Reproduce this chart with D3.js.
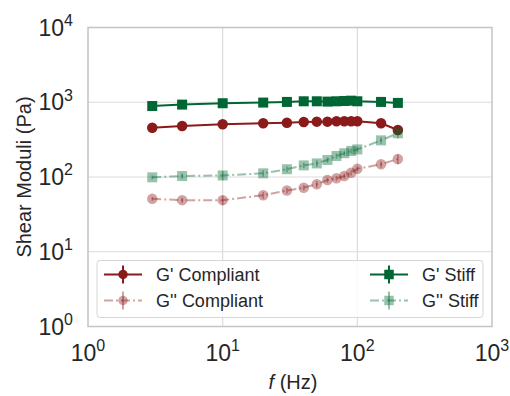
<!DOCTYPE html>
<html>
<head>
<meta charset="utf-8">
<script src="https://cdn.jsdelivr.net/npm/d3@7"></script>
<style>
  body { margin: 0; background: #fff; }
  svg { font-family: "Liberation Sans", Arial, sans-serif; }
</style>
</head>
<body>
<div class="chart"></div>
<script>
// frequencies (Hz)
var freq = [3, 5, 10, 20, 30, 40, 50, 60, 70, 80, 90, 100, 150, 200];

// shear moduli (Pa)
var gpCompliant  = [457, 481, 507, 523, 532, 544, 550, 550, 556, 556, 556, 556, 523, 426];
var gppCompliant = [51, 49, 49, 57, 66, 72, 80, 91, 96, 103, 114, 129, 148, 174];
var gpStiff      = [890, 930, 970, 990, 1010, 1030, 1030, 1020, 1030, 1040, 1050, 1030, 1010, 980];
var gppStiff     = [99, 103, 105, 112, 127, 143, 152, 169, 191, 208, 223, 234, 309, 385];

// rough standard deviations (fraction of value)
var gpErr  = [0.04, 0.03, 0.03, 0.03, 0.03, 0.03, 0.03, 0.03, 0.03, 0.03, 0.03, 0.03, 0.04, 0.06];
var gppErr = [0.06, 0.08, 0.14, 0.1, 0.09, 0.08, 0.1, 0.08, 0.08, 0.08, 0.08, 0.08, 0.1, 0.15];

var xTicks = [1, 10, 100, 1000];
var yTicks = [1, 10, 100, 1000, 10000];

var series = [
    { name: "G' Compliant",  vals: gpCompliant,  err: gpErr,  color: "#8b1a1a", shape: "circle", dash: null,      op: 1 },
    { name: "G'' Compliant", vals: gppCompliant, err: gppErr, color: "#8b1a1a", shape: "circle", dash: "9,3,2,3", op: 0.4 },
    { name: "G' Stiff",      vals: gpStiff,      err: gpErr,  color: "#006633", shape: "square", dash: null,      op: 1 },
    { name: "G'' Stiff",     vals: gppStiff,     err: gppErr, color: "#006633", shape: "square", dash: "9,3,2,3", op: 0.4 }
];

var W = 510, H = 396;
var margin = { top: 27.5, right: 18, bottom: 69.5, left: 88 };
var w = W - margin.left - margin.right;
var h = H - margin.top - margin.bottom;

var svg = d3.select(".chart").append("svg")
    .attr("width", W)
    .attr("height", H);

var g = svg.append("g")
    .attr("transform", "translate(" + margin.left + "," + margin.top + ")");

var x = d3.scaleLog().domain([1, 1000]).range([0, w]);
var y = d3.scaleLog().domain([1, 10000]).range([h, 0]);

// grid
g.append("g").selectAll("line").data(xTicks.slice(1, -1)).enter().append("line")
    .attr("x1", function(d) { return x(d); }).attr("x2", function(d) { return x(d); })
    .attr("y1", 0).attr("y2", h)
    .attr("stroke", "#dcdcdc").attr("stroke-width", 1.2);
g.append("g").selectAll("line").data(yTicks.slice(1, -1)).enter().append("line")
    .attr("y1", function(d) { return y(d); }).attr("y2", function(d) { return y(d); })
    .attr("x1", 0).attr("x2", w)
    .attr("stroke", "#dcdcdc").attr("stroke-width", 1.2);

// frame
g.append("rect").attr("width", w).attr("height", h)
    .attr("fill", "none").attr("stroke", "#c4c4c4").attr("stroke-width", 1.5);

// tick labels as 10^n
function powLabel(sel) {
    sel.each(function(d) {
        var t = d3.select(this);
        t.append("tspan").text("10");
        t.append("tspan").attr("dy", "-0.6em").style("font-size", "16px")
            .text(Math.round(Math.log10(d)));
    });
}

g.append("g").selectAll("text").data(xTicks).enter().append("text")
    .attr("x", function(d) { return x(d); })
    .attr("y", h + 34)
    .attr("text-anchor", "middle")
    .style("font-size", "23px").style("fill", "#262626")
    .call(powLabel);

g.append("g").selectAll("text").data(yTicks).enter().append("text")
    .attr("x", -15)
    .attr("y", function(d) { return y(d) + 8; })
    .attr("text-anchor", "end")
    .style("font-size", "23px").style("fill", "#262626")
    .call(powLabel);

// axis labels
g.append("text")
    .attr("transform", "rotate(-90)")
    .attr("x", -h / 2).attr("y", -margin.left + 31)
    .attr("text-anchor", "middle")
    .style("font-size", "20px").style("fill", "#262626")
    .text("Shear Moduli (Pa)");

var xl = g.append("text")
    .attr("x", w / 2 + 3).attr("y", h + 62)
    .attr("text-anchor", "middle")
    .style("font-size", "20px").style("fill", "#262626");
xl.append("tspan").style("font-style", "italic").text("f");
xl.append("tspan").text(" (Hz)");

// data
var line = d3.line()
    .x(function(d) { return x(d[0]); })
    .y(function(d) { return y(d[1]); });

function drawMarker(sel, s, size) {
    if (s.shape === "circle") {
        sel.append("circle").attr("r", size / 2).attr("fill", s.color).attr("opacity", s.op);
    } else {
        sel.append("rect").attr("x", -size / 2).attr("y", -size / 2)
            .attr("width", size).attr("height", size).attr("fill", s.color).attr("opacity", s.op);
    }
}

series.forEach(function(s) {
    var pts = freq.map(function(f, i) { return [f, s.vals[i], s.err[i]]; });
    var sg = g.append("g");

    sg.append("path").datum(pts)
        .attr("d", line)
        .attr("fill", "none")
        .attr("stroke", s.color)
        .attr("stroke-width", 2)
        .attr("stroke-opacity", s.op)
        .attr("stroke-dasharray", s.dash);

    sg.selectAll("line.err").data(pts).enter().append("line")
        .attr("class", "err")
        .attr("x1", function(d) { return x(d[0]); })
        .attr("x2", function(d) { return x(d[0]); })
        .attr("y1", function(d) { return y(d[1] * (1 + d[2])); })
        .attr("y2", function(d) { return y(d[1] * (1 - d[2])); })
        .attr("stroke", s.color).attr("stroke-width", 1.6)
        .attr("stroke-opacity", s.op);

    var mk = sg.selectAll("g.mk").data(pts).enter().append("g")
        .attr("class", "mk")
        .attr("transform", function(d) { return "translate(" + x(d[0]) + "," + y(d[1]) + ")"; });
    mk.each(function() { drawMarker(d3.select(this), s, s.shape === "circle" ? 10.5 : 10); });
});

// legend
var lg = g.append("g").attr("transform", "translate(9," + (h - 66) + ")");
lg.append("rect")
    .attr("width", w - 18).attr("height", 57)
    .attr("rx", 3)
    .attr("fill", "#fff").attr("fill-opacity", 0.8)
    .attr("stroke", "#d6d6d6").attr("stroke-width", 1);

var cols = [[series[0], series[1]], [series[2], series[3]]];
var colX = [7, 273];
cols.forEach(function(col, ci) {
    col.forEach(function(s, ri) {
        var cy = 14 + ri * 26;
        var it = lg.append("g").attr("transform", "translate(" + colX[ci] + "," + cy + ")");
        it.append("line").attr("x1", 0).attr("x2", 38).attr("y1", 0).attr("y2", 0)
            .attr("stroke", s.color).attr("stroke-width", 2)
            .attr("stroke-opacity", s.op)
            .attr("stroke-dasharray", s.dash);
        it.append("line").attr("x1", 19).attr("x2", 19).attr("y1", -9).attr("y2", 9)
            .attr("stroke", s.color).attr("stroke-width", 2)
            .attr("stroke-opacity", s.op);
        var m = it.append("g").attr("transform", "translate(19,0)");
        drawMarker(m, s, 9.5);
        lg.append("text")
            .attr("x", colX[ci] + 52).attr("y", cy + 6)
            .style("font-size", "18px").style("fill", "#262626")
            .text(s.name);
    });
});
</script>
</body>
</html>
